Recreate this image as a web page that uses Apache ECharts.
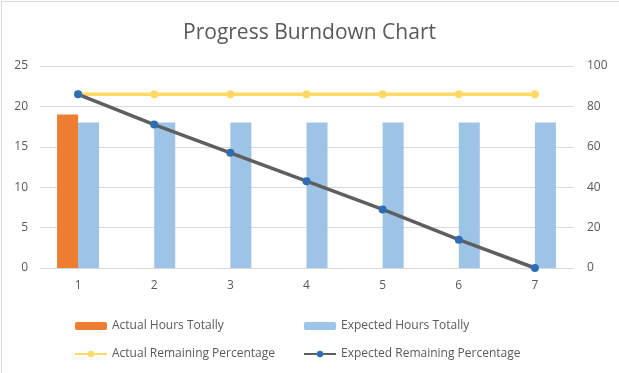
<!DOCTYPE html>
<html>
<head>
<meta charset="utf-8">
<script src="https://cdn.jsdelivr.net/npm/echarts@6/dist/echarts.min.js"></script>
<style>
html,body{margin:0;padding:0;background:#fff;}
#c{position:absolute;left:0;top:0;width:619px;height:373px;}
#b{position:absolute;left:1px;top:1px;width:618px;height:372px;border-left:1px solid #d9d9d9;border-top:1px solid #d9d9d9;box-sizing:border-box;pointer-events:none;}
</style>
</head>
<body>
<div id="c"></div>
<div id="b"></div>
<script>
const categories = ['1','2','3','4','5','6','7'];
const actualHours = [19, null, null, null, null, null, null];
const expectedHours = [18, 18, 18, 18, 18, 18, 18];
const actualRemaining = [86, 86, 86, 86, 86, 86, 86];
const expectedRemaining = [86, 71, 57, 43, 29, 14, 0];
const leftTicks = [0, 25, 5];
const rightTicks = [0, 100, 20];

const FONT = 'Open Sans';
const chart = echarts.init(document.getElementById('c'), null, {renderer: 'canvas'});
const textStyle = {fontFamily: FONT, fontSize: 12, color: '#595959'};
chart.setOption({
  animation: false,
  title: {
    text: 'Progress Burndown Chart',
    left: 'center', top: 18,
    textStyle: {fontFamily: FONT, fontSize: 21, fontWeight: 'normal', color: '#595959'}
  },
  legend: [
    {
      data: ['Actual Hours Totally', 'Actual Remaining Percentage'],
      orient: 'vertical', left: 69, top: 315, itemGap: 16,
      itemWidth: 32, itemHeight: 8,
      textStyle: textStyle
    },
    {
      data: ['Expected Hours Totally', 'Expected Remaining Percentage'],
      orient: 'vertical', left: 298, top: 315, itemGap: 16,
      itemWidth: 32, itemHeight: 8,
      textStyle: textStyle
    }
  ],
  grid: {left: 40, right: 46, top: 66, bottom: 105, containLabel: false},
  xAxis: {
    type: 'category', data: categories,
    axisLine: {lineStyle: {color: '#d9d9d9'}},
    axisTick: {show: false},
    axisLabel: Object.assign({margin: 12}, textStyle)
  },
  yAxis: [
    {
      type: 'value', min: leftTicks[0], max: leftTicks[1], interval: leftTicks[2],
      splitLine: {lineStyle: {color: '#d9d9d9'}},
      axisLine: {show: false}, axisTick: {show: false},
      axisLabel: Object.assign({margin: 12}, textStyle)
    },
    {
      type: 'value', min: rightTicks[0], max: rightTicks[1], interval: rightTicks[2],
      splitLine: {show: false},
      axisLine: {show: false}, axisTick: {show: false},
      axisLabel: Object.assign({margin: 14}, textStyle)
    }
  ],
  series: [
    {
      name: 'Actual Hours Totally', type: 'bar', data: actualHours,
      barWidth: 21, barGap: '0%',
      itemStyle: {color: '#ED7D31'}
    },
    {
      name: 'Expected Hours Totally', type: 'bar', data: expectedHours,
      barWidth: 21, barGap: '0%',
      itemStyle: {color: '#9DC3E6'}
    },
    {
      name: 'Actual Remaining Percentage', type: 'line', yAxisIndex: 1, data: actualRemaining,
      symbol: 'circle', symbolSize: 8,
      lineStyle: {color: '#FFD966', width: 3.5},
      itemStyle: {color: '#FFD966'}
    },
    {
      name: 'Expected Remaining Percentage', type: 'line', yAxisIndex: 1, data: expectedRemaining,
      symbol: 'circle', symbolSize: 8,
      lineStyle: {color: '#5F5F5F', width: 3.5},
      itemStyle: {color: '#2E6DB4'}
    }
  ]
});
</script>
</body>
</html>
